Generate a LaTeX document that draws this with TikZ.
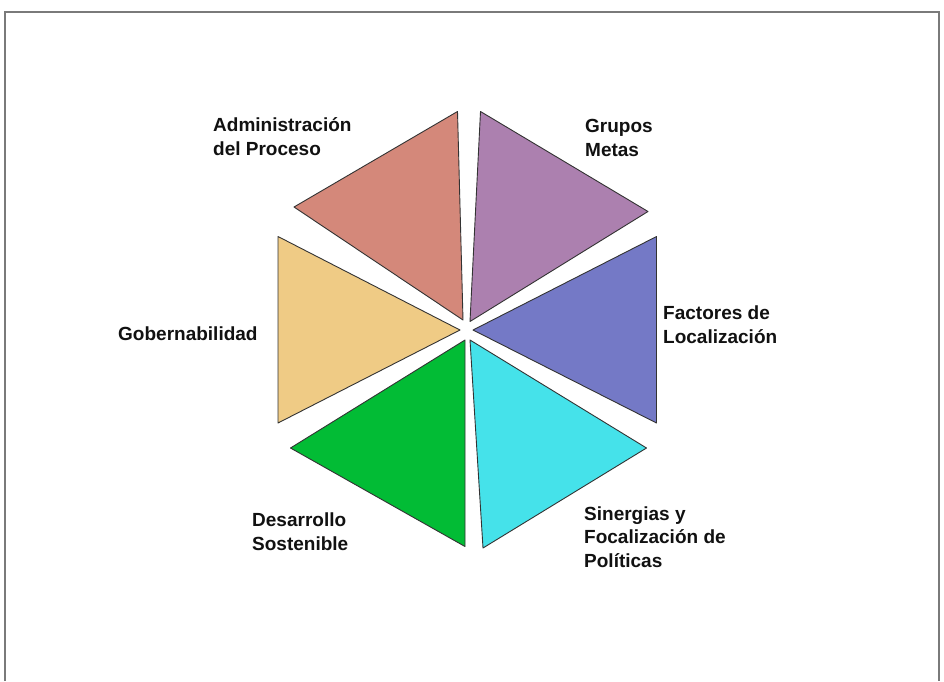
\documentclass[tikz,border=0pt]{standalone}
\usepackage{fontspec}
\setmainfont{Liberation Sans}
\definecolor{csalmon}{HTML}{D4887A}
\definecolor{cpurple}{HTML}{AC80AF}
\definecolor{cblue}{HTML}{7479C6}
\definecolor{cyellow}{HTML}{EFCB85}
\definecolor{cgreen}{HTML}{02BC35}
\definecolor{ccyan}{HTML}{45E2EA}
\definecolor{cframe}{HTML}{7A7A7A}
\definecolor{ctext}{HTML}{111111}
\begin{document}
\begin{tikzpicture}[x=1pt,y=-1pt,
  wedge/.style={draw=black!80,line width=0.9pt,line join=round},
  lbl/.style={anchor=base west,inner sep=0pt,align=left,text=ctext,
    font=\bfseries\fontsize{19}{23.5}\selectfont}]
\useasboundingbox (0,0) rectangle (944,681);
\fill[white] (0,0) rectangle (944,681);
\draw[cframe,line width=2pt] (5,681) -- (5,12) -- (939,12) -- (939,681);
% triangles
\filldraw[wedge,fill=csalmon] (457.5,111.5) -- (294,207) -- (463,320) -- cycle;
\filldraw[wedge,fill=cpurple] (480.5,111.5) -- (648,211.5) -- (470,321.5) -- cycle;
\filldraw[wedge,fill=cblue] (656.5,236.5) -- (656.5,423) -- (473,330) -- cycle;
\filldraw[wedge,fill=cyellow] (278,236.5) -- (278,423) -- (460,330) -- cycle;
\filldraw[wedge,fill=cgreen] (465,340) -- (290.5,448) -- (465,546.5) -- cycle;
\filldraw[wedge,fill=ccyan] (470,340) -- (646.5,448) -- (483,548) -- cycle;
% labels (base = baseline of last line)
\node[lbl] (adm) at (213,155) {Administración\\del Proceso};
\node[lbl] (gru) at (585,156) {Grupos\\Metas};
\node[lbl] (gob) at (118,340) {Gobernabilidad};
\node[lbl] (fac) at (663,343) {Factores de\\Localización};
\node[lbl] (des) at (252,550) {Desarrollo\\Sostenible};
\node[lbl] (sin) at (584,567) {Sinergias y\\Focalización de\\Políticas};
\end{tikzpicture}
\end{document}
